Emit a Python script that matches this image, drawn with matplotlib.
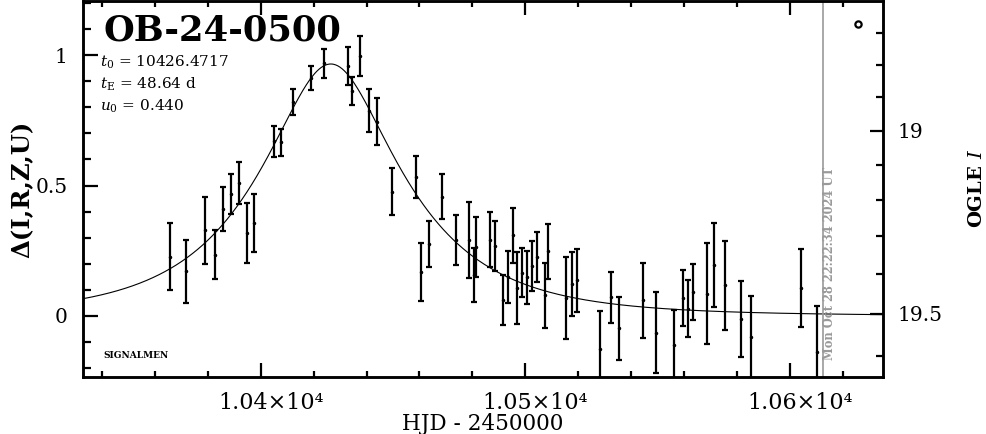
import numpy as np
import matplotlib
matplotlib.use("Agg")
import matplotlib.pyplot as plt
import matplotlib.transforms as mtransforms
from matplotlib.ticker import MultipleLocator, FixedLocator, FuncFormatter

plt.rcParams['font.family'] = ['DejaVu Serif']
plt.rcParams['mathtext.fontset'] = 'dejavuserif'

# photometry (HJD - 2450000, delta mag, error)
hjd = [10365.8, 10371.7, 10378.8, 10382.6, 10385.8, 10388.9, 10391.8, 10394.8, 10397.5,
       10404.9, 10407.8, 10412.0, 10418.8, 10423.8, 10433.0, 10434.6, 10437.4, 10440.8,
       10443.8, 10449.6, 10458.8, 10460.7, 10463.6, 10468.6, 10473.9, 10478.6, 10480.6,
       10481.5, 10486.5, 10488.7, 10491.5, 10493.4, 10495.3, 10496.8, 10498.7, 10500.6,
       10502.5, 10504.5, 10507.5, 10508.5, 10515.5, 10517.6, 10519.5, 10528.4, 10532.5,
       10535.3, 10544.4, 10549.3, 10556.4, 10559.5, 10561.4, 10563.3, 10568.6, 10571.5,
       10575.6, 10581.6, 10585.4, 10604.4, 10610.4]
delta = [0.227, 0.171, 0.328, 0.235, 0.411, 0.468, 0.509, 0.318, 0.357,
         0.669, 0.666, 0.821, 0.912, 0.968, 0.959, 0.861, 0.997, 0.787,
         0.745, 0.477, 0.534, 0.168, 0.277, 0.458, 0.292, 0.292, 0.156,
         0.264, 0.292, 0.268, 0.060, 0.149, 0.309, 0.106, 0.165, 0.149,
         0.190, 0.226, 0.079, 0.248, 0.069, 0.124, 0.137, -0.125, 0.072,
         -0.048, 0.060, -0.064, -0.112, 0.070, 0.028, 0.092, 0.086, 0.194,
         0.117, -0.010, -0.080, 0.107, -0.140]
err = [0.129, 0.122, 0.129, 0.093, 0.084, 0.077, 0.080, 0.114, 0.110,
       0.061, 0.052, 0.050, 0.045, 0.057, 0.073, 0.054, 0.077, 0.083,
       0.091, 0.091, 0.080, 0.112, 0.089, 0.088, 0.096, 0.145, 0.103,
       0.116, 0.106, 0.096, 0.096, 0.099, 0.106, 0.138, 0.094, 0.102,
       0.096, 0.096, 0.125, 0.105, 0.156, 0.123, 0.121, 0.143, 0.098,
       0.121, 0.143, 0.155, 0.134, 0.107, 0.110, 0.109, 0.193, 0.161,
       0.169, 0.146, 0.157, 0.151, 0.178]

# model parameters
t0 = 10426.4717
tE = 48.64
u0 = 0.440
# OGLE I baseline and blending for the right hand scale
I_base = 19.505
f_s = 0.641
mag_major = [19.0, 19.5]
mag_minor = [18.7, 18.8, 18.9, 19.1, 19.2, 19.3, 19.4, 19.6]

now_hjd = 10612.7
now_text = "Mon Oct 28 22:22:34 2024 UT"


def mag_to_delta(m):
    m = np.asarray(m)
    a = (10 ** (-0.4 * (m - I_base)) - 1) / f_s + 1
    return 2.5 * np.log10(a)


fig = plt.figure(figsize=(9.86, 4.34), dpi=100)
ax = fig.add_axes([0.0842, 0.1313, 0.8110, 0.8667])

tt = np.linspace(10300, 10700, 1500)
u = np.sqrt(u0 ** 2 + ((tt - t0) / tE) ** 2)
A = (u ** 2 + 2) / (u * np.sqrt(u ** 2 + 4))
ax.plot(tt, 2.5 * np.log10(A), color='black', lw=0.8)

ax.errorbar(hjd, delta, yerr=err, fmt='.', color='black', ms=3,
            elinewidth=1.6, capsize=2, capthick=1.6)

ax.axvline(now_hjd, color='#999999', lw=1.2)
ax.text(0.934, 0.301, now_text, transform=ax.transAxes, rotation=90,
        ha='center', va='center', fontsize=8.3, color='#999999', fontweight='bold')

ax.set_xlim(10332.8, 10635.1)
ax.set_ylim(-0.234, 1.208)

ax.xaxis.set_major_locator(MultipleLocator(100))
ax.xaxis.set_minor_locator(MultipleLocator(20))
ax.xaxis.set_major_formatter(FuncFormatter(lambda v, p: "%.2f×10⁴" % (v / 1e4)))
ax.yaxis.set_major_locator(FixedLocator([0, 0.5, 1]))
ax.yaxis.set_minor_locator(MultipleLocator(0.1))
ax.yaxis.set_major_formatter(FuncFormatter(lambda v, p: "%g" % v))

ax.tick_params(axis='x', which='both', direction='in', top=True, width=1.6,
               labelsize=16, pad=11)
ax.tick_params(axis='x', which='major', length=10)
ax.tick_params(axis='x', which='minor', length=4.5)
ax.tick_params(axis='y', which='both', direction='in', right=False, width=1.6,
               labelsize=14.5, pad=11)
ax.tick_params(axis='y', which='major', length=11)
ax.tick_params(axis='y', which='minor', length=6)
for s in ax.spines.values():
    s.set_linewidth(1.8)

# tick labels sit a little right of their ticks in the original
shift = mtransforms.ScaledTranslation(10 / 100, 0, fig.dpi_scale_trans)
for lab in ax.get_xticklabels():
    lab.set_transform(lab.get_transform() + shift)

ax.set_xlabel("HJD - 2450000", fontsize=15.5, labelpad=-1)
ax.set_ylabel("Δ(I,R,Z,U)", fontsize=17.5, fontweight='bold', labelpad=1)

ax2 = ax.twinx()
ax2.set_ylim(ax.get_ylim())
ax2.yaxis.set_major_locator(FixedLocator(mag_to_delta(mag_major)))
ax2.yaxis.set_minor_locator(FixedLocator(mag_to_delta(mag_minor)))
ax2.set_yticklabels(["%g" % m for m in mag_major])
ax2.tick_params(axis='y', which='both', direction='in', width=1.6,
                labelsize=14.5, pad=11)
ax2.tick_params(axis='y', which='major', length=9.5)
ax2.tick_params(axis='y', which='minor', length=5)
ax2.set_ylabel(r"OGLE $I$", fontsize=14, fontweight='bold', labelpad=18)
for s in ax2.spines.values():
    s.set_linewidth(1.8)

ax.text(0.025, 0.92, "OB-24-0500", transform=ax.transAxes, fontsize=25.5,
        fontweight='bold', va='center', ha='left')
ax.text(0.021, 0.836, r"$t_0$ = 10426.4717", transform=ax.transAxes,
        fontsize=11, va='center')
ax.text(0.021, 0.777, r"$t_{\rm E}$ = 48.64 d", transform=ax.transAxes,
        fontsize=11, va='center')
ax.text(0.021, 0.719, r"$u_0$ = 0.440", transform=ax.transAxes,
        fontsize=11, va='center')
ax.text(0.025, 0.058, "SIGNALMEN", transform=ax.transAxes, fontsize=6.5,
        va='center', fontweight='bold')
ax.plot([0.969], [0.939], 'o', transform=ax.transAxes, ms=4.5,
        mfc='white', mec='black', mew=1.6)

fig.savefig("out.png", dpi=100)
